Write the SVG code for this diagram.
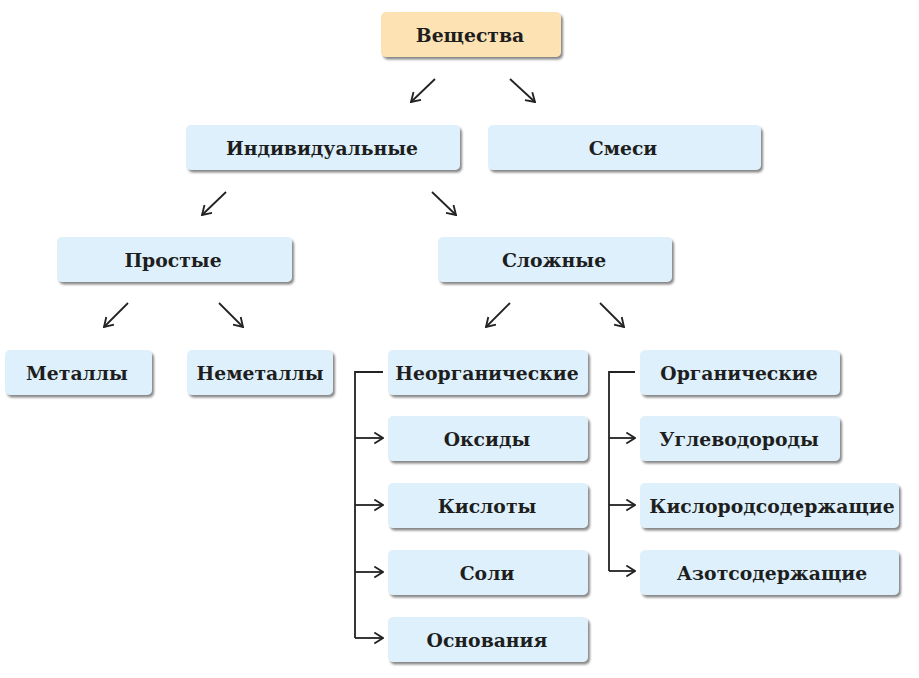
<svg xmlns="http://www.w3.org/2000/svg" width="919" height="678" viewBox="0 0 919 678">
<style>
.box{fill:#ddf0fb;filter:url(#sh)}
.top{fill:#fde2b4;filter:url(#sh)}
.t{font-family:"DejaVu Serif","Liberation Serif",serif;font-weight:bold;font-size:18.8px;fill:#1e1e1e;text-anchor:middle}
.c{stroke:#222;stroke-width:1.8;fill:none}
.a{stroke:#222;stroke-width:1.8;fill:none;marker-end:url(#ah)}
</style>
<defs>
<filter id="sh" x="-10%" y="-20%" width="120%" height="150%">
<feDropShadow dx="2" dy="2.5" stdDeviation="1.2" flood-color="#555" flood-opacity="0.7"/>
</filter>
<marker id="ah" viewBox="0 0 12 12" refX="11" refY="6" markerWidth="13" markerHeight="13" markerUnits="userSpaceOnUse" orient="auto">
<path d="M3,1 L11,6 L3,11" fill="none" stroke="#222" stroke-width="1.7"/>
</marker>
</defs>
<rect width="919" height="678" fill="#ffffff"/>
<g id="connectors">
<line class="a" x1="435" y1="79" x2="411" y2="102"/>
<line class="a" x1="510" y1="79" x2="535" y2="102"/>
<line class="a" x1="226" y1="192" x2="202" y2="215"/>
<line class="a" x1="432" y1="192" x2="456" y2="215"/>
<line class="a" x1="128" y1="303" x2="104" y2="327"/>
<line class="a" x1="219" y1="303" x2="243" y2="327"/>
<line class="a" x1="510" y1="303" x2="486" y2="327"/>
<line class="a" x1="600" y1="303" x2="624" y2="327"/>
<path class="c" d="M383,372 H355 V638"/>
<line class="a" x1="355" y1="438" x2="383" y2="438"/>
<line class="a" x1="355" y1="505" x2="383" y2="505"/>
<line class="a" x1="355" y1="572" x2="383" y2="572"/>
<line class="a" x1="355" y1="638" x2="383" y2="638"/>
<path class="c" d="M635,372 H609 V571"/>
<line class="a" x1="609" y1="438" x2="635" y2="438"/>
<line class="a" x1="609" y1="505" x2="635" y2="505"/>
<line class="a" x1="609" y1="571" x2="635" y2="571"/>
</g>
<g id="n-veshchestva"><rect class="top" x="381" y="12" width="180" height="45" rx="5"/><text class="t" x="470" y="42">Вещества</text></g>
<g id="n-individ"><rect class="box" x="186" y="125" width="274" height="45" rx="5"/><text class="t" x="322" y="155">Индивидуальные</text></g>
<g id="n-smesi"><rect class="box" x="488" y="125" width="273" height="45" rx="5"/><text class="t" x="623" y="155">Смеси</text></g>
<g id="n-prostye"><rect class="box" x="57" y="237" width="235" height="45" rx="5"/><text class="t" x="173" y="267">Простые</text></g>
<g id="n-slozhnye"><rect class="box" x="438" y="237" width="234" height="45" rx="5"/><text class="t" x="554" y="267">Сложные</text></g>
<g id="n-metally"><rect class="box" x="5" y="350" width="147" height="45" rx="5"/><text class="t" x="77" y="380">Металлы</text></g>
<g id="n-nemetally"><rect class="box" x="187" y="350" width="146" height="45" rx="5"/><text class="t" x="260" y="380">Неметаллы</text></g>
<g id="n-neorg"><rect class="box" x="388" y="350" width="200" height="45" rx="5"/><text class="t" x="487" y="380">Неорганические</text></g>
<g id="n-oksidy"><rect class="box" x="388" y="416" width="200" height="45" rx="5"/><text class="t" x="487" y="446">Оксиды</text></g>
<g id="n-kisloty"><rect class="box" x="388" y="483" width="200" height="45" rx="5"/><text class="t" x="487" y="513">Кислоты</text></g>
<g id="n-soli"><rect class="box" x="388" y="550" width="200" height="45" rx="5"/><text class="t" x="487" y="580">Соли</text></g>
<g id="n-osnovaniya"><rect class="box" x="388" y="617" width="200" height="45" rx="5"/><text class="t" x="487" y="647">Основания</text></g>
<g id="n-org"><rect class="box" x="640" y="350" width="200" height="45" rx="5"/><text class="t" x="739" y="380">Органические</text></g>
<g id="n-uglevodorody"><rect class="box" x="640" y="416" width="200" height="45" rx="5"/><text class="t" x="739" y="446">Углеводороды</text></g>
<g id="n-kislorod"><rect class="box" x="640" y="483" width="259" height="45" rx="5"/><text class="t" x="772" y="513">Кислородсодержащие</text></g>
<g id="n-azot"><rect class="box" x="640" y="550" width="259" height="45" rx="5"/><text class="t" x="772" y="580">Азотсодержащие</text></g>
</svg>
